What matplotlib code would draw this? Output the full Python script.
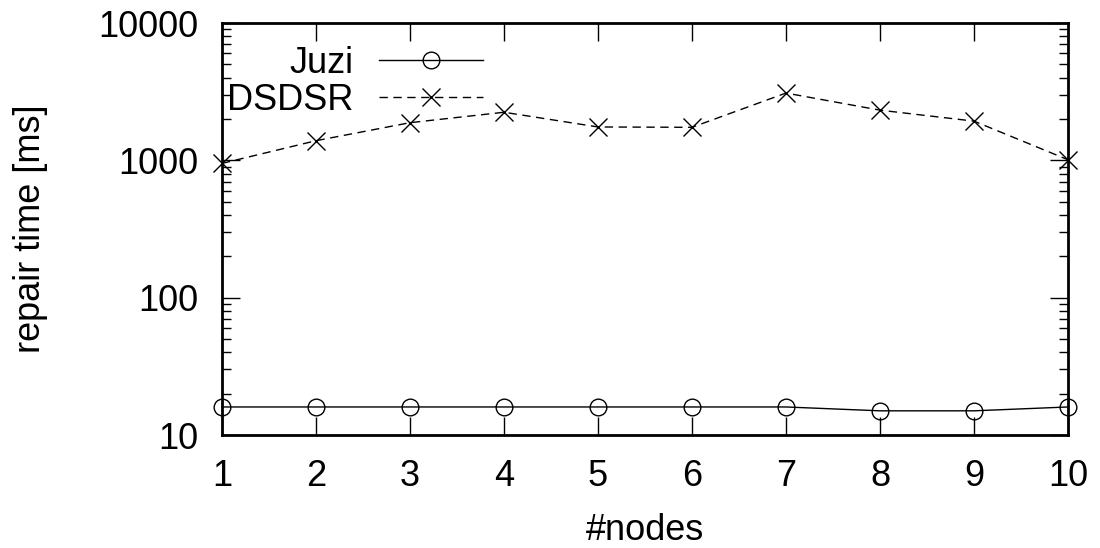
import matplotlib
matplotlib.use("Agg")
import matplotlib.pyplot as plt
from matplotlib.ticker import LogLocator, NullFormatter, FixedLocator

plt.rcParams.update({
    "font.family": ["Liberation Sans", "DejaVu Sans"],
    "font.size": 26,
})

nodes = [1, 2, 3, 4, 5, 6, 7, 8, 9, 10]
juzi = [16, 16, 16, 16, 16, 16, 16, 15, 15, 16]
dsdsr = [950, 1390, 1880, 2240, 1750, 1740, 3090, 2320, 1930, 1010]

y_ticks = [10, 100, 1000, 10000]
y_tick_labels = ["10", "100", "1000", "10000"]

fig = plt.figure(figsize=(11, 5.48), dpi=100)
ax = fig.add_axes([0.2018, 0.2062, 0.7691, 0.7518])

ax.plot(nodes, juzi, color="black", lw=1.0, marker="o", ms=12,
        mfc="none", mec="black", mew=1.0, clip_on=False, label="Juzi")
ax.plot(nodes, dsdsr, color="black", lw=1.0, ls=(0, (6, 4)), marker="x",
        ms=13, mew=1.0, clip_on=False, label="DSDSR")

ax.set_yscale("log")
ax.set_xlim(1, 10)
ax.set_ylim(10, 10000)
ax.set_xticks(nodes)
ax.yaxis.set_major_locator(FixedLocator(y_ticks))
ax.set_yticklabels(y_tick_labels)
ax.yaxis.set_minor_locator(LogLocator(base=10, subs=range(2, 10)))
ax.yaxis.set_minor_formatter(NullFormatter())

ax.tick_params(which="major", direction="in", length=13, width=1.0,
               top=True, right=True)
ax.tick_params(which="minor", direction="in", length=6.5, width=1.0,
               top=False, right=True)
ax.tick_params(axis="y", which="major", pad=17)
ax.tick_params(axis="x", which="major", pad=17)
for s in ax.spines.values():
    s.set_linewidth(2.0)

ax.set_xlabel("#nodes", labelpad=14)
ax.set_ylabel("repair time [ms]", labelpad=36)

ax.legend(loc="upper left", bbox_to_anchor=(0.006, 0.944), frameon=False,
          markerfirst=False, borderpad=0, borderaxespad=0, handlelength=2.9,
          handletextpad=0.7, labelspacing=0.05, numpoints=1)

fig.savefig("out.png", dpi=100)
